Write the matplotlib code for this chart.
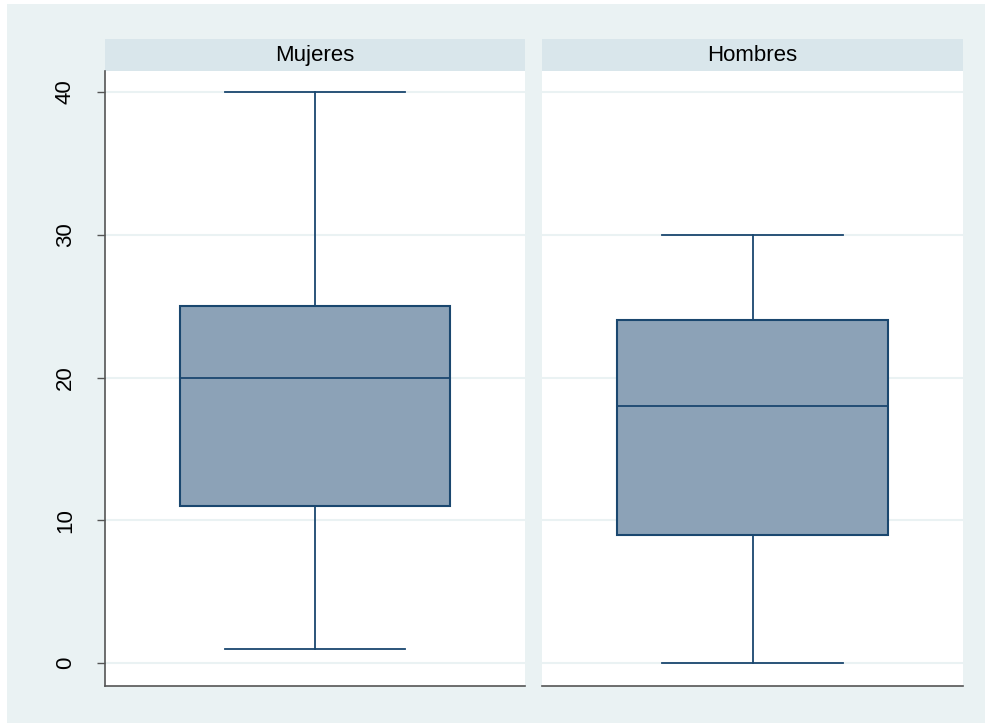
import matplotlib
matplotlib.use("Agg")
import matplotlib.pyplot as plt
from matplotlib.patches import Rectangle

plt.rcParams['font.family'] = ['Liberation Sans', 'DejaVu Sans']

groups = ["Mujeres", "Hombres"]
whislo = [1, 0]
q1 = [11, 9]
med = [20, 18]
q3 = [25, 24]
whishi = [40, 30]
yticks = [0, 10, 20, 30, 40]

W, H = 985, 723
bg = "#EAF2F3"
strip = "#D9E6EB"
navy = "#1A476F"
fill = "#8CA2B7"

fig = plt.figure(figsize=(W / 100, H / 100), dpi=100, facecolor="white")
fig.patches.append(Rectangle((7 / W, 0), 1, 1 - 4 / H, transform=fig.transFigure,
                             facecolor=bg, edgecolor="none", zorder=-10))

def px(x0, y0, x1, y1):
    return [x0 / W, 1 - y1 / H, (x1 - x0) / W, (y1 - y0) / H]

panels = [(105, 525), (542, 963)]
for i, (x0, x1) in enumerate(panels):
    # header strip
    sax = fig.add_axes(px(x0, 39, x1, 71))
    sax.set_facecolor(strip)
    sax.set_xticks([]); sax.set_yticks([])
    for s in sax.spines.values():
        s.set_visible(False)
    sax.text(0.5, 0.48, groups[i], ha="center", va="center", fontsize=16,
             transform=sax.transAxes)

    ax = fig.add_axes(px(x0, 71, x1, 686))
    ax.set_facecolor("white")
    stats = [dict(whislo=whislo[i], q1=q1[i], med=med[i], q3=q3[i],
                  whishi=whishi[i], fliers=[])]
    ax.bxp(stats, positions=[0], widths=0.643, capwidths=0.43, patch_artist=True,
           boxprops=dict(facecolor=fill, edgecolor=navy, linewidth=1.5),
           medianprops=dict(color=navy, linewidth=1.3),
           whiskerprops=dict(color=navy, linewidth=1.3),
           capprops=dict(color=navy, linewidth=1.3))
    ax.set_xlim(-0.5, 0.5)
    ax.set_ylim(-1.6, 41.47)
    ax.set_yticks(yticks)
    ax.set_xticks([])
    ax.grid(axis="y", color=bg, linewidth=1.5, zorder=0)
    ax.set_axisbelow(True)
    for s in ["top", "right"]:
        ax.spines[s].set_visible(False)
    ax.spines["bottom"].set_color("#555555")
    ax.spines["bottom"].set_linewidth(1.2)
    if i == 0:
        ax.spines["left"].set_color("#555555")
        ax.spines["left"].set_linewidth(1.2)
        ax.tick_params(axis="y", length=6, width=1, color="#555555",
                       labelsize=16, pad=15)
        for lab in ax.get_yticklabels():
            lab.set_rotation(90)
            lab.set_va("center")
    else:
        ax.spines["left"].set_visible(False)
        ax.tick_params(axis="y", left=False, labelleft=False)

fig.savefig("out.png", dpi=100, facecolor=fig.get_facecolor())
